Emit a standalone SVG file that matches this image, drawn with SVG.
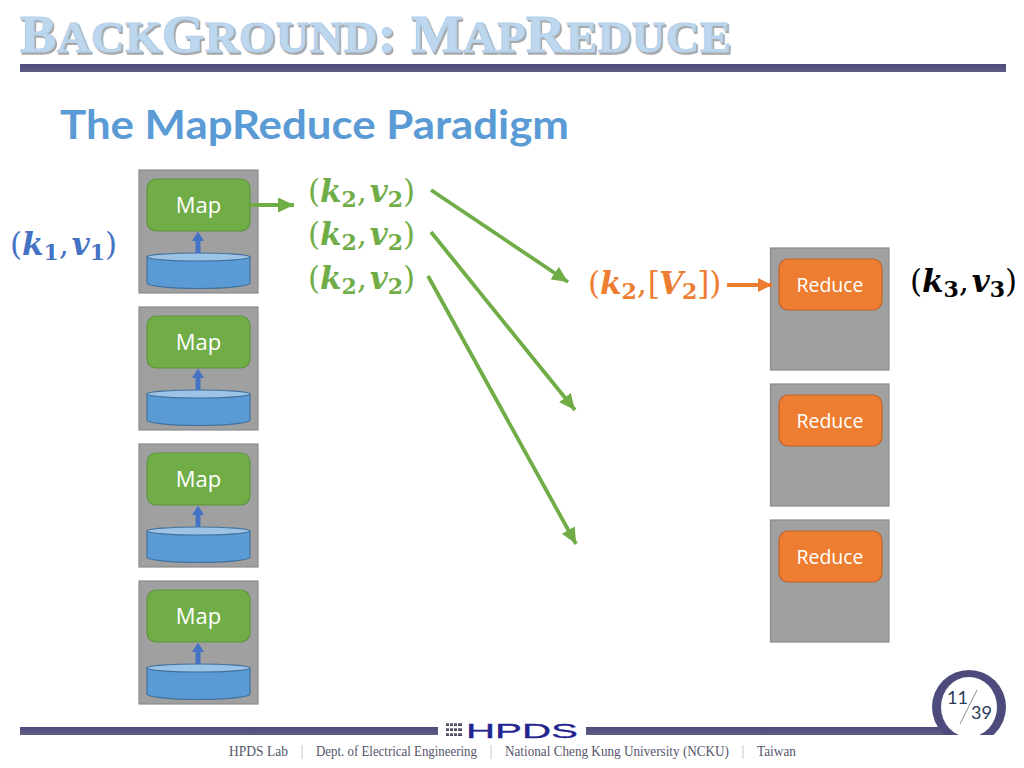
<svg xmlns="http://www.w3.org/2000/svg" width="1024" height="768" viewBox="0 0 1024 768">
<style>
.box{fill:#a0a0a0;stroke:#8a8a8a;stroke-width:1.2}
.map{fill:#70ad47;stroke:#5f9440;stroke-width:1.2}
.red{fill:#ed7d31;stroke:#c0652a;stroke-width:1.2}
.lbl{font-family:"Open Sans","Noto Sans",sans-serif;font-size:22px;fill:#fff;text-anchor:middle}
.cyl{fill:#5b9bd5;stroke:#41719c;stroke-width:1.2}
.cyt{fill:#9dc3e6;stroke:#41719c;stroke-width:1.2}
.m{font-family:"DejaVu Serif",serif;font-size:31px}
.i{font-weight:bold;font-style:italic}
.s{font-size:22px;font-weight:bold}
.g{fill:#70ad47}
.ln{fill:none;stroke-width:3.8}
.foot{font-family:"Liberation Serif",serif;font-size:14px;fill:#55556a}
.sep{stroke:#c8c8d0;stroke-width:1}
.tt{font-family:"Liberation Serif",serif;font-weight:bold;letter-spacing:.6px}
.big{font-size:53px}
.sm{font-size:45px}
</style>
<defs>
<linearGradient id="bar" x1="0" x2="0" y1="0" y2="1"><stop offset="0" stop-color="#4d4b7c"/><stop offset="1" stop-color="#5f5d84"/></linearGradient>
<linearGradient id="dots" x1="0" x2="0" y1="0" y2="1"><stop offset="0" stop-color="#8a8a98"/><stop offset="1" stop-color="#33334a"/></linearGradient>
<clipPath id="ringclip"><rect x="920" y="660" width="100" height="75"/></clipPath>
<marker id="ag" markerUnits="userSpaceOnUse" markerWidth="17" markerHeight="15" refX="16" refY="7.500" orient="auto"><path d="M0 0L16 7.500L0 15Z" fill="#70ad47"/></marker>
<marker id="ao" markerUnits="userSpaceOnUse" markerWidth="15" markerHeight="14" refX="14" refY="7" orient="auto"><path d="M0 0L14 7L0 14Z" fill="#ed7d31"/></marker>
<g id="mapnode">
<rect class="box" x="139" y="170" width="119" height="123"/>
<rect class="map" x="147" y="179" width="103" height="52" rx="9"/>
<path class="cyl" d="M147 257V283C147 286 170 288.500 198.500 288.500S250 286 250 283V257Z"/>
<ellipse class="cyt" cx="198.500" cy="257" rx="51.500" ry="4"/>
<path d="M195.500 253V241H192L198 231.500L204 241H200.500V253Z" fill="#4472c4"/>
<text class="lbl" x="198.500" y="213">Map</text>
</g>
<g id="rednode">
<rect class="box" x="770.500" y="248" width="118.500" height="122"/>
<rect class="red" x="779" y="259" width="103" height="51" rx="9"/>
<text class="lbl" x="830" y="292" style="font-size:19.500px">Reduce</text>
</g>
</defs>
<rect width="1024" height="768" fill="#fff"/>

<g id="header">
<text class="tt" transform="translate(21.500 54) scale(1.03 1)" fill="#a9a9a9" stroke="#a9a9a9" stroke-width="1.400"><tspan class="big">B</tspan><tspan class="sm">ACK</tspan><tspan class="big">G</tspan><tspan class="sm">ROUND</tspan><tspan class="big">: M</tspan><tspan class="sm">AP</tspan><tspan class="big">R</tspan><tspan class="sm">EDUCE</tspan></text>
<text class="tt" transform="translate(20 52) scale(1.03 1)" fill="#bdd7ee" stroke="#b4d0ea" stroke-width="1.200"><tspan class="big">B</tspan><tspan class="sm">ACK</tspan><tspan class="big">G</tspan><tspan class="sm">ROUND</tspan><tspan class="big">: M</tspan><tspan class="sm">AP</tspan><tspan class="big">R</tspan><tspan class="sm">EDUCE</tspan></text>
<rect x="20" y="64" width="986" height="8" fill="url(#bar)"/>
<text x="60" y="139" font-family="Lato,'Open Sans',sans-serif" font-size="41" font-weight="bold" fill="#5b9bd5" textLength="509" lengthAdjust="spacingAndGlyphs">The MapReduce Paradigm</text>
</g>

<use id="map1" href="#mapnode"/>
<use id="map2" href="#mapnode" y="137"/>
<use id="map3" href="#mapnode" y="274"/>
<use id="map4" href="#mapnode" y="411"/>
<use id="reduce1" href="#rednode"/>
<use id="reduce2" href="#rednode" y="136"/>
<use id="reduce3" href="#rednode" y="272"/>

<g id="connectors">
<line class="ln" stroke="#70ad47" x1="250" y1="205" x2="294" y2="205" marker-end="url(#ag)"/>
<line class="ln" stroke="#70ad47" x1="431" y1="190" x2="568" y2="282" marker-end="url(#ag)"/>
<line class="ln" stroke="#70ad47" x1="431" y1="232" x2="575" y2="410" marker-end="url(#ag)"/>
<line class="ln" stroke="#70ad47" x1="428" y1="276" x2="576" y2="544" marker-end="url(#ag)"/>
<line class="ln" stroke="#ed7d31" x1="727" y1="285" x2="772" y2="285" marker-end="url(#ao)"/>
</g>

<g id="math">
<text class="m" x="10" y="255" fill="#4472c4">(<tspan class="i">k</tspan><tspan class="s" dy="5">1</tspan><tspan dy="-5">,</tspan><tspan class="i" dx="3">v</tspan><tspan class="s" dy="5">1</tspan><tspan dy="-5">)</tspan></text>
<text class="m g" x="308" y="202">(<tspan class="i">k</tspan><tspan class="s" dy="5">2</tspan><tspan dy="-5">,</tspan><tspan class="i" dx="3">v</tspan><tspan class="s" dy="5">2</tspan><tspan dy="-5">)</tspan></text>
<text class="m g" x="308" y="245">(<tspan class="i">k</tspan><tspan class="s" dy="5">2</tspan><tspan dy="-5">,</tspan><tspan class="i" dx="3">v</tspan><tspan class="s" dy="5">2</tspan><tspan dy="-5">)</tspan></text>
<text class="m g" x="308" y="289">(<tspan class="i">k</tspan><tspan class="s" dy="5">2</tspan><tspan dy="-5">,</tspan><tspan class="i" dx="3">v</tspan><tspan class="s" dy="5">2</tspan><tspan dy="-5">)</tspan></text>
<text class="m" x="588" y="294" fill="#ed7d31">(<tspan class="i">k</tspan><tspan class="s" dy="5">2</tspan><tspan dy="-5">,</tspan><tspan dx="1">[</tspan><tspan class="i" dx="-1">V</tspan><tspan class="s" dy="5" dx="-1">2</tspan><tspan dy="-5">])</tspan></text>
<text class="m" x="910" y="292" fill="#000">(<tspan class="i">k</tspan><tspan class="s" dy="5">3</tspan><tspan dy="-5">,</tspan><tspan class="i" dx="3">v</tspan><tspan class="s" dy="5">3</tspan><tspan dy="-5">)</tspan></text>
</g>

<g id="footer">
<rect x="20" y="727" width="418" height="8" fill="url(#bar)"/>
<rect x="586" y="727" width="360" height="8" fill="url(#bar)"/>
<g id="page" clip-path="url(#ringclip)">
<circle cx="969" cy="707" r="37" fill="#4d4b7c"/>
<ellipse cx="969" cy="707" rx="28" ry="30" fill="#fff"/>
<line x1="977" y1="690" x2="960" y2="724" stroke="#8a8a96" stroke-width="1"/>
<text x="947" y="704" font-family="Lato,'Open Sans',sans-serif" font-size="18" fill="#2a3a5a">11</text>
<text x="971" y="719" font-family="Lato,'Open Sans',sans-serif" font-size="18" fill="#2a3a5a">39</text>
</g>
<g id="logo">
<g fill="url(#dots)"><rect x="446" y="723" width="16" height="3"/><rect x="446" y="728" width="16" height="3"/><rect x="446" y="733" width="16" height="3"/></g>
<g fill="#fff"><rect x="449" y="722" width="1" height="16"/><rect x="453" y="722" width="1" height="16"/><rect x="457" y="722" width="1" height="16"/></g>
<text x="466" y="738" font-family="'Liberation Sans',sans-serif" font-size="21" fill="#23238e" stroke="#23238e" stroke-width=".3" textLength="112" lengthAdjust="spacingAndGlyphs">HPDS</text>
</g>
<text class="foot" x="229" y="756" textLength="59" lengthAdjust="spacingAndGlyphs">HPDS Lab</text>
<line class="sep" x1="302" y1="745" x2="302" y2="759"/>
<text class="foot" x="316" y="756" textLength="161" lengthAdjust="spacingAndGlyphs">Dept. of Electrical Engineering</text>
<line class="sep" x1="491" y1="745" x2="491" y2="759"/>
<text class="foot" x="505" y="756" textLength="224" lengthAdjust="spacingAndGlyphs">National Cheng Kung University (NCKU)</text>
<line class="sep" x1="743" y1="745" x2="743" y2="759"/>
<text class="foot" x="757" y="756" textLength="39" lengthAdjust="spacingAndGlyphs">Taiwan</text>
</g>
</svg>
